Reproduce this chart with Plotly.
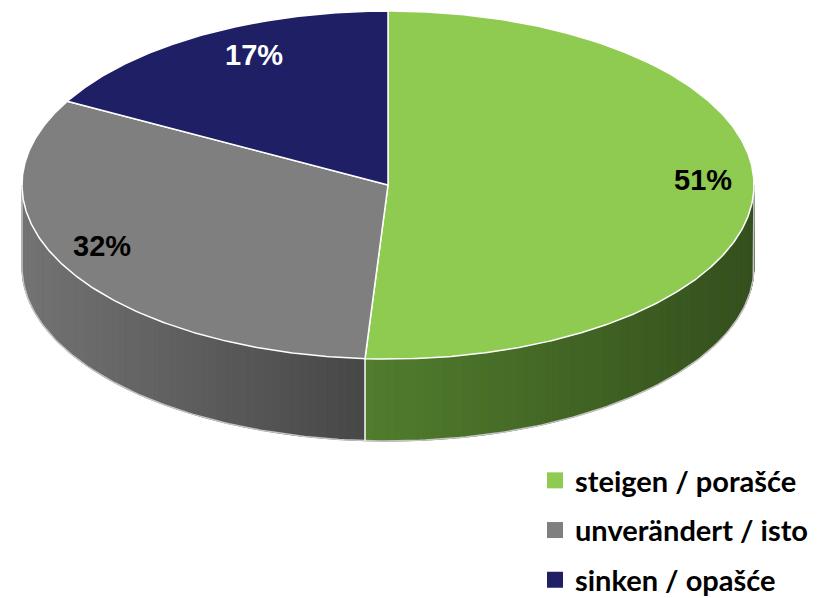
import numpy as np
import plotly.graph_objects as go

# ---- data ----
categories = ["steigen / porašće", "unverändert / isto", "sinken / opašće"]
values = [51, 32, 17]

# ---- style ----
top_colors = ["#8fcb50", "#7f7f7f", "#1f1f66"]
side_light = ["#517d2d", "#737373", "#2a2a7a"]
side_dark = ["#344f1d", "#474747", "#15154a"]
label_colors = ["black", "black", "white"]
label_angle_shift = [-3, 4, 4]
label_f = [0.86, 0.86, 0.82]

CX, CY, RX, RY, DEPTH = 388, 185, 366, 174, 82
OFF = 8  # page body margin in the browser


def pts(theta_deg, f=1.0, dz=0.0):
    t = np.radians(np.asarray(theta_deg, dtype=float))
    return CX + f * RX * np.sin(t), CY - f * RY * np.cos(t) + dz


def hex2rgb(h):
    h = h.lstrip("#")
    return np.array([int(h[i:i + 2], 16) for i in (0, 2, 4)], dtype=float)


def mix(c1, c2, t):
    c = hex2rgb(c1) * (1 - t) + hex2rgb(c2) * t
    return "rgb(%d,%d,%d)" % tuple(np.round(c).astype(int))


total = float(sum(values))
bounds = np.concatenate([[0.0], np.cumsum(values) / total * 360.0])

fig = go.Figure()

# ---- side walls (visible front half: 90..270 degrees) ----
for i in range(len(values)):
    a0, a1 = bounds[i], bounds[i + 1]
    s0, s1 = max(a0, 90.0), min(a1, 270.0)
    if s1 <= s0:
        continue
    n = max(int((s1 - s0) / 1.5), 2)
    edges = np.linspace(s0, s1, n + 1)
    xs_all = pts(edges)[0]
    xmin, xmax = xs_all.min(), xs_all.max()
    for k in range(n):
        th = np.linspace(edges[k], edges[k + 1], 4)
        xt, yt = pts(th)
        xb, yb = pts(th[::-1], dz=DEPTH)
        xm = 0.5 * (xt[0] + xt[-1])
        t = (xm - xmin) / (xmax - xmin) if xmax > xmin else 0.5
        col = mix(side_light[i], side_dark[i], t)
        fig.add_trace(go.Scatter(
            x=np.concatenate([xt, xb, xt[:1]]), y=np.concatenate([yt, yb, yt[:1]]),
            mode="lines", fill="toself", fillcolor=col,
            line=dict(color=col, width=1), hoverinfo="skip", showlegend=False))

# outer silhouette of side wall
th = np.linspace(90, 270, 200)
xb, yb = pts(th, dz=DEPTH)
xl, yl = pts([270])
xr, yr = pts([90])
fig.add_trace(go.Scatter(
    x=np.concatenate([xr, xb, xl]), y=np.concatenate([yr, yb, yl]),
    mode="lines", line=dict(color="#c4c4c4", width=1.5),
    hoverinfo="skip", showlegend=False))

# ---- top faces ----
for i in range(len(values)):
    a0, a1 = bounds[i], bounds[i + 1]
    th = np.linspace(a0, a1, max(int((a1 - a0) / 0.5), 2))
    x, y = pts(th)
    fig.add_trace(go.Scatter(
        x=np.concatenate([[CX], x, [CX]]), y=np.concatenate([[CY], y, [CY]]),
        mode="lines", fill="toself", fillcolor=top_colors[i],
        line=dict(color="white", width=1.5), hoverinfo="skip", showlegend=False))

# vertical separators between side walls
for b in bounds[1:-1]:
    if 90 < b < 270:
        xt, yt = pts([b])
        xb, yb = pts([b], dz=DEPTH)
        fig.add_trace(go.Scatter(
            x=[xt[0], xb[0]], y=[yt[0], yb[0]], mode="lines",
            line=dict(color="white", width=1.5), hoverinfo="skip", showlegend=False))

# ---- percentage labels ----
for i, v in enumerate(values):
    mid = 0.5 * (bounds[i] + bounds[i + 1]) + label_angle_shift[i]
    lx, ly = pts([mid], f=label_f[i])
    fig.add_annotation(
        x=lx[0], y=ly[0], text="%d%%" % round(v / total * 100), showarrow=False,
        yshift=2,
        font=dict(family="Liberation Sans, Arial, sans-serif", size=29,
                  color=label_colors[i], weight="bold"))

# ---- legend entries ----
for i, cat in enumerate(categories):
    fig.add_trace(go.Scatter(
        x=[None], y=[None], mode="markers", name=cat, legendgroup=cat,
        marker=dict(symbol="square", size=16, color=top_colors[i])))

fig.update_layout(
    width=832, height=598,
    margin=dict(l=0, r=0, t=0, b=0),
    paper_bgcolor="white", plot_bgcolor="white",
    xaxis=dict(range=[OFF, 832 + OFF], visible=False, fixedrange=True),
    yaxis=dict(range=[598 + OFF, OFF], visible=False, fixedrange=True),
    showlegend=True,
    legend=dict(
        x=(535 - OFF) / 832, y=1 - (455 - OFF) / 598, xanchor="left", yanchor="top",
        font=dict(family="Lato, Open Sans, sans-serif", size=29, color="black", weight="bold"),
        bgcolor="rgba(0,0,0,0)", tracegroupgap=9, itemwidth=30,
        traceorder="grouped"),
)

fig.write_html("out.html")
